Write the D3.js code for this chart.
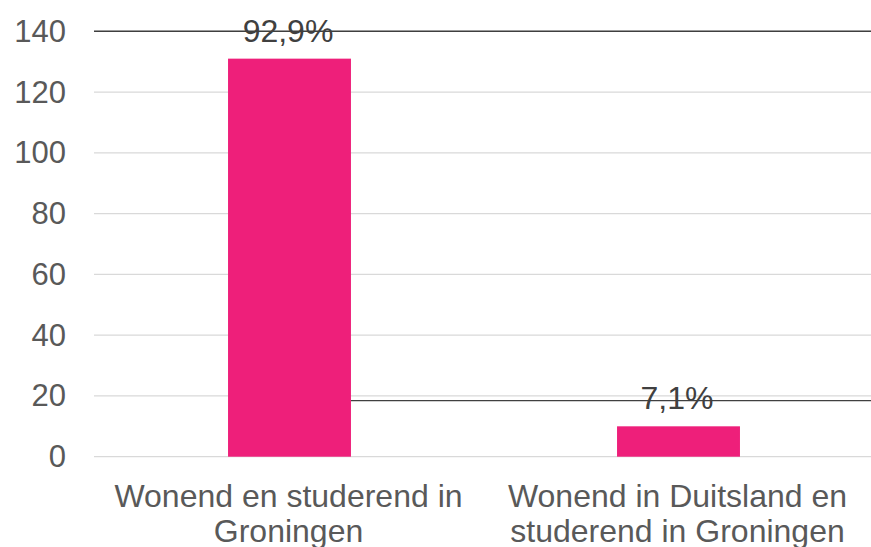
<!DOCTYPE html>
<html>
<head>
<meta charset="utf-8">
<script src="https://cdn.jsdelivr.net/npm/d3@7"></script>
<style>
  html, body { margin: 0; padding: 0; background: #fff; }
  svg { display: block; }
  text { font-family: "Liberation Sans", Arial, sans-serif; }
</style>
</head>
<body>
<script>
const categories = [["Wonend en studerend in", "Groningen"], ["Wonend in Duitsland en", "studerend in Groningen"]];
const values = [131, 10];
const dataLabels = ["92,9%", "7,1%"];
const yTicks = [0, 20, 40, 60, 80, 100, 120, 140];

const W = 871, H = 547;
const svg = d3.select("body").append("svg").attr("width", W).attr("height", H);

const y = d3.scaleLinear().domain([0, 140]).range([456.7, 31.3]);
const x = d3.scaleBand().domain(d3.range(categories.length)).range([95, 873])
  .paddingInner(0.684).paddingOuter(0.342);
const plotLeft = 94, plotRight = 871;

// gridlines
svg.append("g").selectAll("line").data(yTicks).join("line")
  .attr("x1", plotLeft).attr("x2", plotRight)
  .attr("y1", d => y(d)).attr("y2", d => y(d))
  .attr("stroke", "#d9d9d9").attr("stroke-width", 1.3);

// dark lines through data labels
const labelY = values.map(v => y(v) - 17);
svg.append("line")
  .attr("x1", plotLeft).attr("x2", plotRight)
  .attr("y1", y(140)).attr("y2", y(140))
  .attr("stroke", "#3f3f3f").attr("stroke-width", 1.6);
svg.append("line")
  .attr("x1", x(0) + x.bandwidth()).attr("x2", plotRight)
  .attr("y1", labelY[1] - 8.7).attr("y2", labelY[1] - 8.7)
  .attr("stroke", "#404040").attr("stroke-width", 1.1);

// y tick labels
svg.append("g").selectAll("text").data(yTicks).join("text")
  .attr("x", 66).attr("y", d => y(d))
  .attr("dy", "0.34em")
  .attr("text-anchor", "end")
  .attr("fill", "#595959").attr("font-size", 31)
  .text(d => d);

// bars
svg.append("g").selectAll("rect").data(values).join("rect")
  .attr("x", (d, i) => x(i)).attr("width", x.bandwidth())
  .attr("y", d => y(d)).attr("height", d => y(0) - y(d))
  .attr("fill", "#ee1f7a");

// data labels
svg.append("g").selectAll("text").data(values).join("text")
  .attr("x", (d, i) => x(i) + x.bandwidth() / 2 - 1.5)
  .attr("y", (d, i) => labelY[i])
  .attr("text-anchor", "middle")
  .attr("fill", "#404040").attr("font-size", 32)
  .text((d, i) => dataLabels[i]);

// category labels
const cat = svg.append("g").selectAll("text").data(categories).join("text")
  .attr("x", (d, i) => x(i) + x.bandwidth() / 2)
  .attr("y", 507)
  .attr("text-anchor", "middle")
  .attr("fill", "#595959").attr("font-size", 32);
cat.each(function(lines, i) {
  const t = d3.select(this);
  lines.forEach((ln, j) => {
    t.append("tspan").attr("x", x(i) + x.bandwidth() / 2 - 1).attr("dy", j === 0 ? 0 : 35).text(ln);
  });
});
</script>
</body>
</html>
